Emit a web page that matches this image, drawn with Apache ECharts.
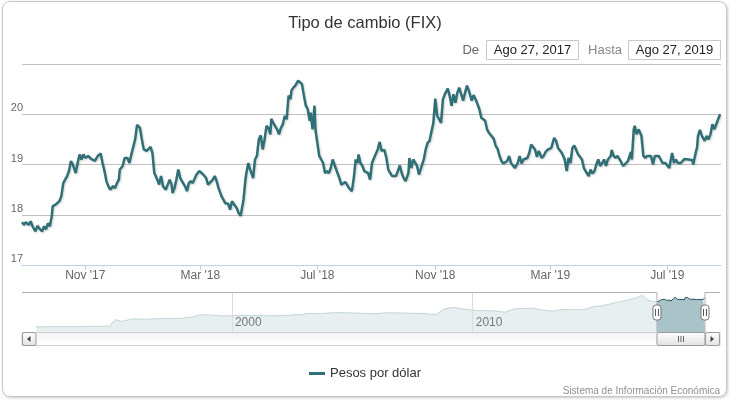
<!DOCTYPE html>
<html>
<head>
<meta charset="utf-8">
<title>Tipo de cambio (FIX)</title>
<script src="https://cdn.jsdelivr.net/npm/echarts@6/dist/echarts.min.js"></script>
<style>
    html, body { margin: 0; padding: 0; background: #fff; }
    #marco {
        position: absolute; left: 2px; top: 1px; width: 723px; height: 394px;
        border: 1px solid #c6c6c6; border-radius: 8px;
        box-shadow: 1px 1px 3px rgba(0, 0, 0, 0.22);
    }
    #grafica { position: absolute; left: 0; top: 0; width: 730px; height: 400px; }
</style>
</head>
<body>
<div id="marco"></div>
<div id="grafica"></div>
<script>
/***********************************************************************************/
// Tipo de cambio FIX - pesos por dólar
var FUENTE = 'Liberation Sans, Arial, sans-serif';
var COLOR_SERIE = '#2f6f76';
var DIA = 86400000;

function fecha(s) { // 'YYYY-MM-DD' en hora local
    var p = s.split('-');
    return new Date(+p[0], +p[1] - 1, +p[2]).getTime();
}

var desde = '2017-08-27';
var diasRango = 729; // hasta ago 26/27, 2019

// días transcurridos desde "desde" y valor FIX
var dias = [
    0, 2, 4, 7, 9, 11, 14, 16, 18, 21,
    23, 25, 27, 29, 31, 32, 35, 37, 39, 41,
    43, 45, 47, 49, 51, 53, 56, 58, 60, 62,
    64, 66, 69, 72, 74, 76, 79, 82, 84, 86,
    88, 90, 92, 95, 97, 99, 101, 102, 105, 107,
    110, 112, 114, 116, 118, 120, 123, 125, 127, 130,
    132, 134, 136, 138, 141, 143, 145, 147, 150, 152,
    154, 156, 157, 159, 161, 163, 165, 168, 170, 172,
    174, 176, 178, 180, 182, 185,
    187, 189, 192, 194, 196, 199, 201, 203, 205, 208,
    210, 212, 215, 217, 219, 221, 224, 226, 228, 231,
    233, 234, 236, 238, 240, 241, 243, 245, 247, 249,
    251, 253, 255, 257, 259, 260, 262, 264, 266, 268,
    270, 272, 274, 276, 278, 280, 281, 283, 285, 288,
    290, 292, 294, 296, 298, 300, 301, 303, 305, 306,
    308, 310, 312, 314, 316, 318, 320, 322, 324, 326,
    329, 331, 333, 335, 337, 339, 341, 344, 346, 348,
    350, 351, 353, 355, 357, 359, 361, 363, 365, 368,
    369, 371, 373, 375, 378, 380, 382, 384, 386, 388,
    390, 392, 394, 396, 398, 400, 403, 404, 406, 408,
    410, 412, 414, 416, 419, 421, 423, 425, 427, 429,
    431, 433, 435, 437, 439, 441, 444, 446, 448, 450,
    452, 454, 456, 458, 460, 462, 464, 466, 469, 471,
    473, 475, 477, 479, 481, 483, 485, 487, 489, 492,
    494, 496, 498, 500, 502, 504, 506, 508, 510, 512,
    514, 517, 519, 521, 523, 525, 527, 529, 531, 533,
    535, 537, 539, 542, 544, 546, 548, 550, 552, 555,
    557, 559, 561, 563, 566, 568, 570, 572, 574, 576,
    578, 580, 582, 584, 586, 589, 591, 593, 595, 597,
    599, 601, 603, 605, 607, 609, 611, 614, 615, 617,
    619, 621, 623, 625, 627, 630, 632, 634, 635, 636,
    638, 639, 641, 643, 646, 648, 650, 652, 654, 656,
    658, 660, 662, 664, 666, 668, 671, 673, 675, 677,
    678, 680, 682, 684, 687, 689, 691, 693, 695, 697,
    699, 700, 703, 704, 705, 707, 709, 712, 714, 716,
    718, 720, 722, 724, 726, 728
];
var pesos = [
    17.85, 17.80, 17.85, 17.80, 17.87, 17.77, 17.67, 17.78, 17.73, 17.67,
    17.77, 17.71, 17.83, 17.77, 17.97, 18.17, 18.20, 18.23, 18.27, 18.37,
    18.63, 18.70, 18.77, 18.87, 19.07, 19.00, 18.83, 19.03, 19.20, 19.10,
    19.20, 19.13, 19.17, 19.11, 19.10, 19.07, 19.17, 19.22, 19.03, 18.87,
    18.67, 18.57, 18.50, 18.57, 18.53, 18.63, 18.70, 18.90, 18.97, 19.13,
    19.13, 19.03, 19.20, 19.23, 19.50, 19.79, 19.73, 19.50, 19.30, 19.27,
    19.31, 19.35, 19.23, 18.83, 18.70, 18.60, 18.77, 18.57, 18.50, 18.47,
    18.70, 18.60, 18.43, 18.53, 18.70, 18.90, 18.73, 18.63, 18.57, 18.47,
    18.63, 18.67, 18.63, 18.60, 18.80, 18.87,
    18.90, 18.80, 18.73, 18.60, 18.58, 18.70, 18.77, 18.67, 18.53, 18.37,
    18.30, 18.23, 18.22, 18.10, 18.27, 18.25, 18.13, 18.03, 17.98, 18.30,
    18.70, 18.83, 19.03, 18.90, 18.87, 18.73, 19.10, 19.17, 19.50, 19.58,
    19.30, 19.50, 19.77, 19.73, 19.60, 19.91, 19.83, 19.80, 19.70, 19.60,
    19.73, 19.80, 19.97, 19.90, 20.37, 20.30, 20.47, 20.53, 20.57, 20.67,
    20.70, 20.60, 20.37, 20.17, 20.10, 19.87, 20.03, 19.70, 20.17, 19.70,
    19.43, 19.17, 19.10, 19.03, 18.83, 18.87, 18.83, 18.93, 19.10, 19.07,
    18.83, 18.73, 18.60, 18.63, 18.65, 18.60, 18.53, 18.47, 18.73, 19.10,
    19.03, 19.20, 19.03, 18.97, 18.87, 18.87, 18.83, 18.70, 19.03, 19.17,
    19.20, 19.30, 19.45, 19.27, 19.29, 19.13, 18.90, 18.83, 18.77, 18.80,
    18.77, 18.87, 18.98, 18.83, 18.73, 18.67, 18.83, 19.13, 18.93, 19.10,
    19.10, 18.97, 18.80, 18.78, 19.10, 19.30, 19.43, 19.47, 19.50, 19.83,
    20.31, 19.97, 19.90, 19.83, 20.30, 20.40, 20.51, 20.37, 20.17, 20.40,
    20.23, 20.43, 20.53, 20.40, 20.27, 20.27, 20.57, 20.47, 20.27, 20.38,
    20.30, 20.31, 20.10, 19.93, 19.91, 19.87, 19.70, 19.63, 19.60, 19.51,
    19.37, 19.31, 19.17, 19.07, 19.02, 19.03, 19.07, 19.17, 19.03, 19.00,
    18.93, 19.03, 19.17, 19.02, 19.10, 19.09, 19.13, 19.23, 19.40, 19.35,
    19.30, 19.15, 19.27, 19.13, 19.17, 19.25, 19.29, 19.27, 19.33, 19.53,
    19.47, 19.33, 19.31, 19.23, 19.10, 18.87, 19.13, 19.03, 19.33, 19.38,
    19.37, 19.20, 19.17, 19.10, 18.93, 18.83, 18.77, 18.90, 18.82, 18.87,
    19.00, 19.10, 18.97, 19.03, 19.10, 18.97, 19.10, 19.17, 19.29, 19.17,
    19.13, 19.17, 19.11, 19.10, 18.97, 19.03, 19.07, 19.10, 19.25, 19.10,
    19.70, 19.77, 19.60, 19.70, 19.57, 19.17, 19.13, 19.17, 19.15, 19.17,
    19.00, 19.17, 19.20, 19.17, 19.17, 19.03, 19.03, 19.00, 18.93, 19.13,
    19.23, 19.03, 19.10, 19.03, 19.03, 19.05, 19.11, 19.09, 19.10, 19.07,
    19.09, 19.00, 19.27, 19.33, 19.57, 19.69, 19.57, 19.47, 19.57, 19.50,
    19.60, 19.80, 19.70, 19.80, 19.90, 20.00
];

// historia larga que se ve en el navegador
var historicoFechas = [
    '1991-11-12', '1992-06-01', '1993-06-01', '1994-03-01', '1994-12-15', '1994-12-30',
    '1995-03-09', '1995-06-01', '1995-11-15', '1996-06-01', '1996-12-01', '1997-06-01',
    '1997-12-01', '1998-06-01', '1998-09-01', '1999-03-01', '1999-09-01', '2000-06-01',
    '2001-03-01', '2001-09-01', '2002-06-01', '2002-12-01', '2003-03-01', '2003-09-01',
    '2004-06-01', '2005-03-01', '2005-12-01', '2006-06-01', '2007-03-01', '2007-12-01',
    '2008-07-01', '2008-10-15', '2009-03-01', '2009-09-01', '2010-03-01', '2010-12-01',
    '2011-05-01', '2011-10-01', '2012-06-01', '2012-12-01', '2013-05-01', '2013-09-01',
    '2014-06-01', '2014-10-01', '2014-12-15', '2015-06-01', '2015-12-01', '2016-06-01',
    '2016-11-15', '2017-01-19', '2017-04-01', '2017-07-01'
];
var historicoValores = [
    3.07, 3.12, 3.12, 3.30, 3.46, 5.00,
    7.30, 6.20, 7.70, 7.50, 7.85, 7.90,
    8.10, 8.90, 10.20, 9.90, 9.40, 9.80,
    9.60, 9.50, 9.90, 10.30, 10.90, 10.90,
    11.40, 11.10, 10.70, 11.30, 11.10, 10.90,
    10.10, 13.30, 14.50, 13.40, 12.60, 12.40,
    11.60, 13.60, 14.00, 12.90, 12.20, 13.20,
    13.00, 13.50, 14.70, 15.50, 17.20, 18.60,
    20.50, 21.60, 18.80, 17.80
];

var marcasMeses = ['2017-11-01', '2018-03-01', '2018-07-01', '2018-11-01', '2019-03-01', '2019-07-01'];
var marcasAnios = ['2000-01-01', '2010-01-01'];
var mesesEn = ['Jan', 'Feb', 'Mar', 'Apr', 'May', 'Jun', 'Jul', 'Aug', 'Sep', 'Oct', 'Nov', 'Dec'];
var mesesEs = ['Ene', 'Feb', 'Mar', 'Abr', 'May', 'Jun', 'Jul', 'Ago', 'Sep', 'Oct', 'Nov', 'Dic'];

/***********************************************************************************/
var inicio = fecha(desde);
var fin = inicio + diasRango * DIA;

var serieFix = dias.map(function (d, i) { return [inicio + d * DIA, pesos[i]]; });
var serieHist = historicoFechas.map(function (f, i) { return [fecha(f), historicoValores[i]]; });
serieHist.push(serieFix[0]); // se une con el tramo seleccionado

function textoFecha(t) {
    var d = new Date(t);
    return mesesEs[d.getMonth()] + ' ' + d.getDate() + ', ' + d.getFullYear();
}

var chart = echarts.init(document.getElementById('grafica'));

// eje x en milisegundos (escala lineal), marcas en fechas fijas
var option = {
    animation: false,
    title: {
        text: 'Tipo de cambio (FIX)',
        left: 'center',
        top: 10,
        textStyle: { fontFamily: FUENTE, fontSize: 16.5, fontWeight: 'normal', color: '#333' }
    },
    legend: {
        data: ['Pesos por dólar'],
        left: 'center',
        top: 362,
        icon: 'rect',
        itemWidth: 16,
        itemHeight: 3,
        itemGap: 5,
        textStyle: { fontFamily: FUENTE, fontSize: 13, color: '#333' }
    },
    grid: [
        { left: 22, right: 9, top: 64, height: 201 },
        { left: 36, right: 25, top: 292, height: 40 }
    ],
    xAxis: [
        {
            type: 'value',
            gridIndex: 0,
            min: inicio,
            max: fin,
            axisLine: { lineStyle: { color: '#C0D0E0' } },
            axisTick: {
                customValues: marcasMeses.map(fecha),
                length: 5,
                lineStyle: { color: '#C0D0E0' }
            },
            axisLabel: {
                customValues: marcasMeses.map(fecha),
                margin: 5,
                color: '#666',
                fontFamily: FUENTE,
                fontSize: 12,
                formatter: function (v) {
                    var d = new Date(v);
                    return mesesEn[d.getMonth()] + " '" + String(d.getFullYear()).slice(2);
                }
            },
            splitLine: { show: false }
        },
        {
            type: 'value',
            gridIndex: 1,
            min: serieHist[0][0],
            max: fin,
            z: 10,
            axisLine: { show: false },
            axisTick: { show: false, customValues: marcasAnios.map(fecha) },
            axisLabel: {
                customValues: marcasAnios.map(fecha),
                inside: true,
                margin: 3,
                align: 'left',
                padding: [0, 0, 0, 3],
                color: '#777',
                fontFamily: FUENTE,
                fontSize: 12,
                formatter: function (v) { return String(new Date(v).getFullYear()); }
            },
            splitLine: { show: true, lineStyle: { color: '#dcdcdc' } }
        }
    ],
    yAxis: [
        {
            type: 'value',
            gridIndex: 0,
            min: 17,
            max: 21,
            interval: 1,
            axisLine: { show: false },
            axisTick: { show: false },
            axisLabel: {
                showMaxLabel: false,
                margin: -1,
                verticalAlign: 'bottom',
                lineHeight: 12,
                color: '#666',
                fontFamily: FUENTE,
                fontSize: 11
            },
            splitLine: { lineStyle: { color: '#C0C0C0' } }
        },
        { type: 'value', gridIndex: 1, min: 0, max: 23.5, show: false }
    ],
    series: [
        {
            name: 'Pesos por dólar',
            type: 'line',
            xAxisIndex: 0,
            yAxisIndex: 0,
            data: serieFix,
            symbol: 'none',
            itemStyle: { color: COLOR_SERIE },
            lineStyle: {
                width: 2.5,
                color: COLOR_SERIE,
                shadowColor: 'rgba(0,0,0,0.18)',
                shadowBlur: 2,
                shadowOffsetX: 1,
                shadowOffsetY: 1
            },
            z: 3
        },
        {
            name: 'navegador',
            type: 'line',
            xAxisIndex: 1,
            yAxisIndex: 1,
            data: serieHist,
            symbol: 'none',
            silent: true,
            lineStyle: { width: 1, color: '#c2d5d8' },
            areaStyle: { color: '#e7eff0', opacity: 1 }
        },
        {
            name: 'seleccion',
            type: 'line',
            xAxisIndex: 1,
            yAxisIndex: 1,
            data: serieFix,
            symbol: 'none',
            silent: true,
            lineStyle: { width: 1, color: '#1f4e56' },
            areaStyle: { color: '#a9c4c8', opacity: 1 }
        }
    ]
};

chart.setOption(option);

/***********************************************************************************/
// selector de rango, contorno del navegador y barra de desplazamiento
var selIni = chart.convertToPixel({ xAxisIndex: 1 }, inicio);
var selFin = chart.convertToPixel({ xAxisIndex: 1 }, fin);
var navTop = 292.5, navBottom = 332, sbTop = 332.5, sbH = 13;

function degradado(a, b) {
    return new echarts.graphic.LinearGradient(0, 0, 0, 1, [
        { offset: 0, color: a }, { offset: 1, color: b }
    ]);
}

function manija(x) {
    return [
        { type: 'rect', shape: { x: x - 4, y: 305, width: 8, height: 15, r: 3 },
          style: { fill: '#fff', stroke: '#777', lineWidth: 1 }, z: 20 },
        { type: 'line', shape: { x1: x - 1.5, y1: 309, x2: x - 1.5, y2: 316 },
          style: { stroke: '#555', lineWidth: 1 }, z: 21 },
        { type: 'line', shape: { x1: x + 1.5, y1: 309, x2: x + 1.5, y2: 316 },
          style: { stroke: '#555', lineWidth: 1 }, z: 21 }
    ];
}

var cxThumb = (selIni + selFin) / 2;

var elementos = [
    // De / Hasta
    { type: 'text', style: { text: 'De', x: 479, y: 50, align: 'right', verticalAlign: 'middle',
        fill: '#666', fontFamily: FUENTE, fontSize: 13 } },
    { type: 'rect', shape: { x: 486.5, y: 40.5, width: 92, height: 19 },
        style: { fill: '#fff', stroke: '#c8c8c8', lineWidth: 1 } },
    { type: 'text', style: { text: textoFecha(inicio), x: 532.5, y: 50, align: 'center', verticalAlign: 'middle',
        fill: '#222', fontFamily: FUENTE, fontSize: 13 }, z: 2 },
    { type: 'text', style: { text: 'Hasta', x: 622, y: 50, align: 'right', verticalAlign: 'middle',
        fill: '#888', fontFamily: FUENTE, fontSize: 13 } },
    { type: 'rect', shape: { x: 628.5, y: 40.5, width: 92, height: 19 },
        style: { fill: '#fff', stroke: '#c8c8c8', lineWidth: 1 } },
    { type: 'text', style: { text: textoFecha(inicio + 730 * DIA), x: 674.5, y: 50, align: 'center', verticalAlign: 'middle',
        fill: '#222', fontFamily: FUENTE, fontSize: 13 }, z: 2 },

    // contorno del navegador
    { type: 'polyline', shape: { points: [[22, navTop], [selIni, navTop], [selIni, navBottom]] },
        style: { stroke: '#b2b1b6', fill: null, lineWidth: 1 }, z: 15 },
    { type: 'polyline', shape: { points: [[selFin, navBottom], [selFin, navTop], [720, navTop]] },
        style: { stroke: '#b2b1b6', fill: null, lineWidth: 1 }, z: 15 },

    // barra de desplazamiento
    { type: 'rect', shape: { x: 22, y: sbTop, width: 698, height: sbH },
        style: { fill: degradado('#f2f2f2', '#ffffff'), stroke: '#cfcfcf', lineWidth: 1 }, z: 10 },
    { type: 'rect', shape: { x: 22.5, y: sbTop, width: 13.5, height: sbH, r: 2 },
        style: { fill: degradado('#ffffff', '#e2e2e2'), stroke: '#999', lineWidth: 1 }, z: 11 },
    { type: 'polygon', shape: { points: [[30.5, 336], [30.5, 342], [27, 339]] },
        style: { fill: '#444' }, z: 12 },
    { type: 'rect', shape: { x: selIni, y: sbTop, width: selFin - selIni, height: sbH, r: 2 },
        style: { fill: degradado('#ffffff', '#e0e0e0'), stroke: '#999', lineWidth: 1 }, z: 11 },
    { type: 'line', shape: { x1: cxThumb - 2.5, y1: 336, x2: cxThumb - 2.5, y2: 342 }, style: { stroke: '#666' }, z: 12 },
    { type: 'line', shape: { x1: cxThumb, y1: 336, x2: cxThumb, y2: 342 }, style: { stroke: '#666' }, z: 12 },
    { type: 'line', shape: { x1: cxThumb + 2.5, y1: 336, x2: cxThumb + 2.5, y2: 342 }, style: { stroke: '#666' }, z: 12 },
    { type: 'rect', shape: { x: selFin + 0.5, y: sbTop, width: 14, height: sbH, r: 2 },
        style: { fill: degradado('#ffffff', '#e2e2e2'), stroke: '#999', lineWidth: 1 }, z: 11 },
    { type: 'polygon', shape: { points: [[710.5, 336], [710.5, 342], [714, 339]] },
        style: { fill: '#444' }, z: 12 },

    // créditos
    { type: 'text', style: { text: 'Sistema de Información Económica', x: 720, y: 391, align: 'right',
        verticalAlign: 'middle', fill: '#909090', fontFamily: FUENTE, fontSize: 10 } }
].concat(manija(selIni), manija(selFin));

chart.setOption({ graphic: elementos });
</script>
</body>
</html>
